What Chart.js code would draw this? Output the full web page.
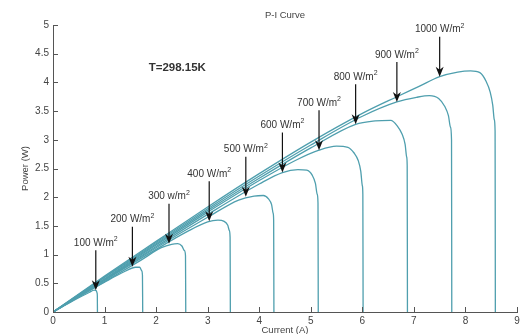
<!DOCTYPE html>
<html>
<head>
<meta charset="utf-8">
<script src="https://cdn.jsdelivr.net/npm/chart.js@4/dist/chart.umd.min.js"></script>
<style>
html,body{margin:0;padding:0;background:#fff;}
#wrap{width:526px;height:334px;position:relative;}
</style>
</head>
<body>
<div id="wrap"><canvas id="c" width="526" height="334"></canvas></div>
<script>
// ---- data ----
const chartTitle = 'P-I Curve';
const xTitle = 'Current (A)';
const yTitle = 'Power (W)';
const tempLabel = 'T=298.15K';
const tempPos = [2.41, 4.25];

const xTicks = [0,1,2,3,4,5,6,7,8,9];
const yTicks = [0,0.5,1,1.5,2,2.5,3,3.5,4,4.5,5];

const i100 = [0, 0.4, 0.7, 0.8, 0.84, 0.855, 0.86, 0.862];
const p100 = [0, 0.2, 0.34, 0.38, 0.37, 0.33, 0.28, 0];
const i200 = [0, 0.5, 1.0, 1.4, 1.6, 1.68, 1.72, 1.735, 1.74];
const p200 = [0, 0.265, 0.52, 0.71, 0.78, 0.78, 0.72, 0.64, 0];
const i300 = [0, 1, 1.7, 2.1, 2.3, 2.42, 2.5, 2.55, 2.57, 2.575];
const p300 = [0, 0.53, 0.9, 1.12, 1.18, 1.19, 1.15, 1.07, 0.98, 0];
const i400 = [0, 1, 2, 2.6, 3.0, 3.2, 3.32, 3.39, 3.42, 3.435, 3.44];
const p400 = [0, 0.55, 1.09, 1.4, 1.57, 1.6, 1.58, 1.51, 1.42, 1.3, 0];
const i500 = [0, 1, 2, 3, 3.6, 3.9, 4.08, 4.18, 4.24, 4.27, 4.28, 4.285];
const p500 = [0, 0.56, 1.12, 1.65, 1.95, 2.02, 2.03, 1.97, 1.87, 1.72, 1.6, 0];
const i600 = [0, 1, 2, 3, 4, 4.45, 4.75, 4.92, 5.03, 5.09, 5.125, 5.14, 5.145];
const p600 = [0, 0.57, 1.14, 1.7, 2.23, 2.43, 2.48, 2.47, 2.38, 2.24, 2.05, 1.9, 0];
const i700 = [0, 1, 2, 3, 4, 4.7, 5.16, 5.5, 5.72, 5.84, 5.92, 5.97, 6.0, 6.01, 6.015];
const p700 = [0, 0.58, 1.17, 1.74, 2.29, 2.64, 2.82, 2.89, 2.87, 2.77, 2.64, 2.45, 2.2, 2.05, 0];
const i800 = [0, 1, 2, 3, 4, 5, 5.87, 6.25, 6.55, 6.68, 6.77, 6.83, 6.86, 6.87, 6.875];
const p800 = [0, 0.6, 1.19, 1.77, 2.33, 2.86, 3.27, 3.33, 3.34, 3.24, 3.1, 2.92, 2.7, 2.55, 0];
const i900 = [0, 1, 2, 3, 4, 5, 6, 6.67, 7.05, 7.3, 7.48, 7.6, 7.67, 7.71, 7.73, 7.735];
const p900 = [0, 0.61, 1.21, 1.8, 2.37, 2.91, 3.41, 3.66, 3.74, 3.77, 3.72, 3.58, 3.42, 3.22, 3.0, 0];
const i1000 = [0, 1, 2, 3, 4, 5, 6, 6.67, 7.1, 7.5, 7.85, 8.1, 8.28, 8.4, 8.48, 8.53, 8.56, 8.575, 8.58];
const p1000 = [0, 0.625, 1.23, 1.83, 2.41, 2.96, 3.46, 3.75, 3.93, 4.1, 4.18, 4.2, 4.17, 4.02, 3.83, 3.6, 3.35, 3.15, 0];

const arrowLabels = ['100 W/m','200 W/m','300 w/m','400 W/m','500 W/m','600 W/m','700 W/m','800 W/m','900 W/m','1000 W/m'];
const arrowI = [0.83, 1.54, 2.25, 3.03, 3.74, 4.45, 5.16, 5.87, 6.67, 7.5];
const arrowP = [0.38, 0.79, 1.19, 1.58, 2.01, 2.43, 2.82, 3.27, 3.66, 4.1];

// ---- build ----
const seriesI = [i100,i200,i300,i400,i500,i600,i700,i800,i900,i1000];
const seriesP = [p100,p200,p300,p400,p500,p600,p700,p800,p900,p1000];
const LINE = '#4f9fae';
const FONT = '"Liberation Sans", Arial, Helvetica, sans-serif';

const datasets = seriesI.map((xs, k) => ({
  label: arrowLabels[k],
  data: xs.map((x, j) => ({x: x, y: seriesP[k][j]})),
  showLine: true,
  borderColor: LINE,
  borderWidth: 1.3,
  pointRadius: 0,
  fill: false,
  cubicInterpolationMode: 'monotone'
}));

const overlay = {
  id: 'overlay',
  afterDraw(chart) {
    const ctx = chart.ctx;
    const xs = chart.scales.x, ys = chart.scales.y;
    const area = chart.chartArea;
    ctx.save();
    // inward ticks
    ctx.strokeStyle = '#555';
    ctx.lineWidth = 1;
    ctx.beginPath();
    xTicks.forEach(v => {
      const px = Math.round(xs.getPixelForValue(v)) + 0.5;
      ctx.moveTo(px, area.bottom);
      ctx.lineTo(px, area.bottom - 5);
    });
    yTicks.forEach(v => {
      const py = Math.round(ys.getPixelForValue(v)) + 0.5;
      ctx.moveTo(area.left, py);
      ctx.lineTo(area.left + 5, py);
    });
    ctx.stroke();

    // title
    ctx.fillStyle = '#444';
    ctx.font = '9.5px ' + FONT;
    ctx.textAlign = 'center';
    ctx.textBaseline = 'middle';
    ctx.fillText(chartTitle, (area.left + area.right) / 2, 15);
    // x title
    ctx.font = '9.5px ' + FONT;
    ctx.textBaseline = 'top';
    ctx.fillText(xTitle, (area.left + area.right) / 2, 326);
    // y title
    ctx.save();
    ctx.translate(25, (area.top + area.bottom) / 2);
    ctx.rotate(-Math.PI / 2);
    ctx.textBaseline = 'middle';
    ctx.fillText(yTitle, 0, 0);
    ctx.restore();

    // temperature label
    ctx.fillStyle = '#333';
    ctx.font = 'bold 11.5px ' + FONT;
    ctx.textBaseline = 'middle';
    ctx.textAlign = 'center';
    ctx.fillText(tempLabel, xs.getPixelForValue(tempPos[0]), ys.getPixelForValue(tempPos[1]));

    // arrows + labels
    arrowLabels.forEach((lab, k) => {
      const tx = xs.getPixelForValue(arrowI[k]);
      const ty = ys.getPixelForValue(arrowP[k]);
      ctx.strokeStyle = '#111';
      ctx.fillStyle = '#111';
      ctx.lineWidth = 1.2;
      ctx.beginPath();
      ctx.moveTo(tx, ty - 40);
      ctx.lineTo(tx, ty - 6);
      ctx.stroke();
      ctx.beginPath();
      ctx.moveTo(tx, ty);
      ctx.lineTo(tx - 4, ty - 10);
      ctx.lineTo(tx, ty - 7);
      ctx.lineTo(tx + 4, ty - 10);
      ctx.closePath();
      ctx.fill();
      // label
      ctx.fillStyle = '#333';
      ctx.font = '10px ' + FONT;
      ctx.textAlign = 'left';
      ctx.textBaseline = 'middle';
      const w = ctx.measureText(lab).width;
      ctx.font = '7px ' + FONT;
      const ws = ctx.measureText('2').width;
      const x0 = tx - (w + ws) / 2;
      const y0 = ty - 47;
      ctx.font = '10px ' + FONT;
      ctx.fillText(lab, x0, y0);
      ctx.font = '7px ' + FONT;
      ctx.fillText('2', x0 + w, y0 - 4);
    });
    ctx.restore();
  }
};

new Chart(document.getElementById('c'), {
  type: 'scatter',
  data: { datasets },
  options: {
    responsive: false,
    animation: false,
    layout: { padding: { top: 25, right: 9, left: 0, bottom: 0 } },
    plugins: { legend: { display: false }, tooltip: { enabled: false }, title: { display: false } },
    scales: {
      x: {
        type: 'linear', min: 0, max: 9,
        afterFit(s) { s.height = 22; },
        afterBuildTicks(s) { s.ticks = xTicks.map(v => ({value: v})); },
        grid: { display: false, drawTicks: false },
        border: { display: true, color: '#555', width: 1 },
        ticks: { color: '#444', font: { size: 10, family: FONT }, padding: 3, maxRotation: 0,
                 callback: v => String(v) }
      },
      y: {
        type: 'linear', min: 0, max: 5,
        afterFit(s) { s.width = 53; },
        afterBuildTicks(s) { s.ticks = yTicks.map(v => ({value: v})); },
        grid: { display: false, drawTicks: false },
        border: { display: true, color: '#555', width: 1 },
        ticks: { color: '#444', font: { size: 10, family: FONT }, padding: 4,
                 callback: v => String(v) }
      }
    }
  },
  plugins: [overlay]
});
</script>
</body>
</html>
